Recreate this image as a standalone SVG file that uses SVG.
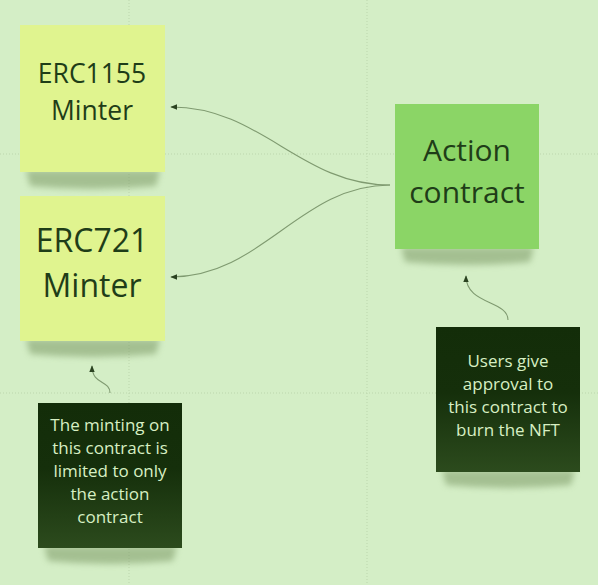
<svg xmlns="http://www.w3.org/2000/svg" width="598" height="585" viewBox="0 0 598 585">
<defs>
<filter id="blur" x="-20%" y="-50%" width="140%" height="200%"><feGaussianBlur stdDeviation="3"/></filter>
<linearGradient id="dark" x1="0" y1="0" x2="0" y2="1">
<stop offset="0" stop-color="#132d09"/>
<stop offset="0.45" stop-color="#152f0b"/>
<stop offset="1" stop-color="#2c4b1d"/>
</linearGradient>
<marker id="arr" viewBox="0 0 10 10" refX="9" refY="5" markerWidth="7" markerHeight="7" orient="auto-start-reverse" markerUnits="userSpaceOnUse">
<path d="M0,1 L10,5 L0,9 Z" fill="#2a4220"/>
</marker>
<style>
.grid{stroke:#bcd6ad;stroke-width:1;stroke-dasharray:1 2}
.shadow{fill:#7d9a66;opacity:0.55;filter:url(#blur)}
.yellow{fill:#e0f48f}
.greenn{fill:#8bd566}
.darkn{fill:url(#dark)}
.big{font-family:"Open Sans","Noto Sans",sans-serif;fill:#1f3d18;text-anchor:middle}
.small{font-family:"Open Sans","Noto Sans",sans-serif;font-size:17px;fill:#d7efc3;text-anchor:middle}
.conn{fill:none;stroke:#7f9a70;stroke-width:1.1}
</style>
</defs>
<rect width="598" height="585" fill="#d4eec6"/>
<g id="grid">
<line class="grid" x1="129" y1="0" x2="129" y2="585"/>
<line class="grid" x1="367" y1="0" x2="367" y2="585"/>
<line class="grid" x1="0" y1="154" x2="598" y2="154"/>
<line class="grid" x1="0" y1="393" x2="598" y2="393"/>
</g>
<g id="connectors">
<path class="conn" d="M390,185 C300,185 262,107 171,107" marker-end="url(#arr)"/>
<path class="conn" d="M390,185 C300,185 262,277 171,277" marker-end="url(#arr)"/>
<path class="conn" d="M508,320 C508,300 466,305 466,276" marker-end="url(#arr)"/>
<path class="conn" d="M110,393 C110,380 92,385 92,366" marker-end="url(#arr)"/>
</g>
<g id="erc1155">
<path class="shadow" d="M26,170 L160,170 L156,186 Q92,192 30,186 Z"/>
<rect class="yellow" x="20" y="25" width="145" height="147"/>
<text class="big" font-size="26.5" x="92" y="83">ERC1155</text>
<text class="big" font-size="26.5" x="92" y="120">Minter</text>
</g>
<g id="erc721">
<path class="shadow" d="M26,339 L160,339 L156,354 Q92,360 30,354 Z"/>
<rect class="yellow" x="20" y="196" width="145" height="145"/>
<text class="big" font-size="32" x="92" y="252">ERC721</text>
<text class="big" font-size="32" x="92" y="297">Minter</text>
</g>
<g id="action">
<path class="shadow" d="M401,247 L534,247 L530,262 Q467,268 405,262 Z"/>
<rect class="greenn" x="395" y="104" width="144" height="145"/>
<text class="big" font-size="30" x="467" y="161">Action</text>
<text class="big" font-size="30" x="467" y="203">contract</text>
</g>
<g id="note-approval">
<path class="shadow" d="M442,470 L575,470 L571,485 Q508,491 446,485 Z"/>
<rect class="darkn" x="436" y="327" width="144" height="145"/>
<text class="small" x="508" y="367">Users give</text>
<text class="small" x="508" y="390">approval to</text>
<text class="small" x="508" y="413">this contract to</text>
<text class="small" x="508" y="436">burn the NFT</text>
</g>
<g id="note-minting">
<path class="shadow" d="M44,546 L177,546 L173,561 Q110,567 48,561 Z"/>
<rect class="darkn" x="38" y="403" width="144" height="145"/>
<text class="small" x="110" y="431">The minting on</text>
<text class="small" x="110" y="454">this contract is</text>
<text class="small" x="110" y="477">limited to only</text>
<text class="small" x="110" y="500">the action</text>
<text class="small" x="110" y="523">contract</text>
</g>
</svg>
